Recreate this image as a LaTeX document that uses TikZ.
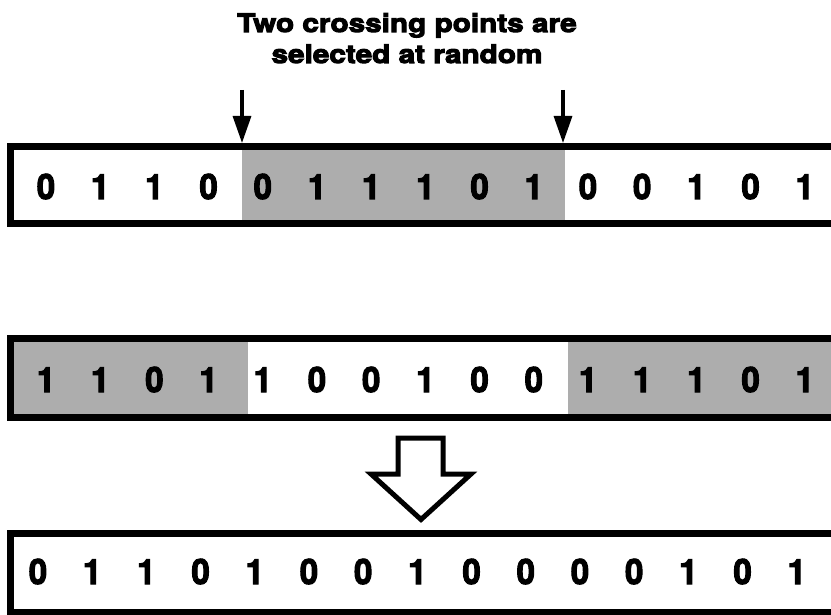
\documentclass[tikz,border=0pt]{standalone}
\usepackage{fontspec}
\usetikzlibrary{arrows.meta}
\newfontfamily\headfont{TeX Gyre Heros}[BoldFeatures={FakeBold=4,FakeStretch=1.17}]
\newfontfamily\bitfont{TeX Gyre Heros}[BoldFeatures={FakeBold=3,FakeStretch=0.95}]
\begin{document}
\begin{tikzpicture}[x=1bp,y=-1bp,
  chrom/.style={draw, line width=7bp, inner sep=0pt, outer sep=3.5bp, minimum width=840bp},
  swapfill/.style={fill=black!32},
  bit/.style={anchor=base, inner sep=0pt, font=\bitfont\bfseries\fontsize{35}{35}\selectfont},
  head/.style={anchor=base, inner sep=0pt, font=\headfont\bfseries\fontsize{25.5}{30}\selectfont},
  pick/.style={line width=3.2bp, -{Triangle[width=18bp,length=27bp]}},
  blockarrow/.style={draw, line width=5bp, line join=miter, fill=white}]
\useasboundingbox (0,0) rectangle (831,615);
\clip (0,0) rectangle (831,615);

% heading
\node[head] (head1) at (407,32) {Two crossing points are};
\node[head] (head2) at (407,63) {selected at random};

% segments exchanged between the two parents
\fill[swapfill] (242,150) rectangle (565,220);
\fill[swapfill] (14,342) rectangle (248,414);
\fill[swapfill] (568,342) rectangle (840,414);

% first parent
\foreach \b [count=\i from 0] in {0,1,1,0,0,1,1,1,0,1,0,0,1,0,1}
  \node[bit] (p\i) at (46+54.2*\i,199) {\b};
% second parent
\foreach \b [count=\i from 0] in {1,1,0,1,1,0,0,1,0,0,1,1,1,0,1}
  \node[bit] (q\i) at (46+54.2*\i,392) {\b};
% offspring
\foreach \b [count=\i from 0] in {0,1,1,0,1,0,0,1,0,0,0,0,1,0,1}
  \node[bit] (o\i) at (38+54.2*\i,584) {\b};

% chromosome frames
\node[chrom, minimum height=77bp] (row1) at (431,185) {};
\node[chrom, minimum height=79bp] (row2) at (431,378) {};
\node[chrom, minimum height=78.5bp] (row3) at (431,572.75) {};

% crossing points
\coordinate (cutA) at (242,90);
\coordinate (cutB) at (563,90);
\draw[pick] (cutA) -- (cutA |- row1.north);
\draw[pick] (cutB) -- (cutB |- row1.north);

% block arrow from parents to offspring
\draw[blockarrow] (398,438) -- (443,438) -- (443,474) -- (471,474)
  -- (421,519.5) -- (371,474) -- (398,474) -- cycle;
\end{tikzpicture}
\end{document}
